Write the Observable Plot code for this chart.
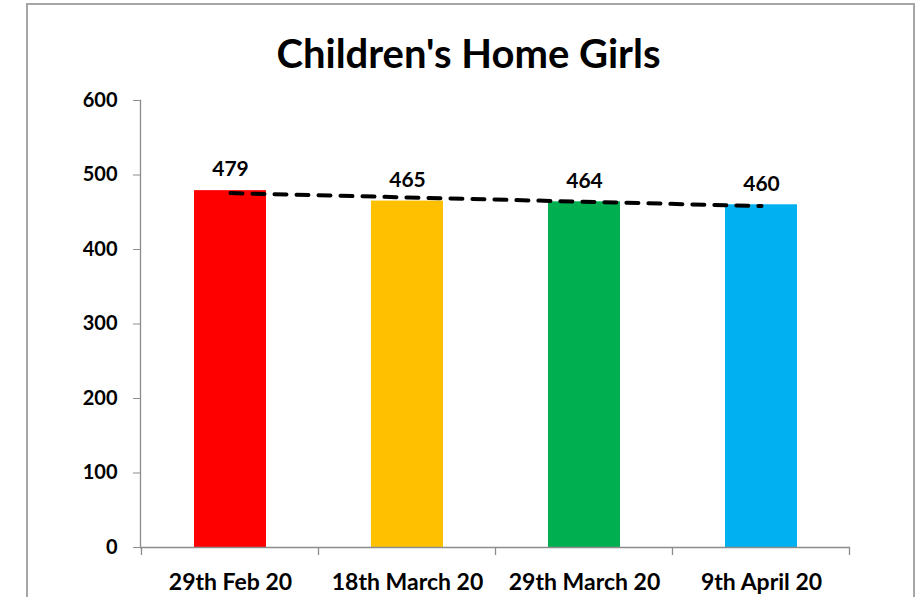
<!DOCTYPE html>
<html>
<head>
<meta charset="utf-8">
<script src="https://cdn.jsdelivr.net/npm/d3@7"></script>
<script src="https://cdn.jsdelivr.net/npm/@observablehq/plot@0.6"></script>
<style>
  html, body { margin: 0; padding: 0; background: #fff; }
  #wrap { position: relative; width: 918px; height: 597px; overflow: hidden; font-family: Lato, "Open Sans", sans-serif; }
  #border { position: absolute; left: 26px; top: 3px; width: 889px; height: 700px; border: 2px solid #a6a6a6; box-sizing: border-box; }
  #title { position: absolute; left: 27px; width: 883px; top: 30px; text-align: center; font-weight: 700; font-size: 40px; color: #000; line-height: 46px; }
  #chart { position: absolute; left: 0; top: 0; }
</style>
</head>
<body>
<div id="wrap">
  <div id="border"></div>
  <div id="title">Children's Home Girls</div>
  <div id="chart"></div>
</div>
<script>
const categories = ["29th Feb 20", "18th March 20", "29th March 20", "9th April 20"];
const values = [479, 465, 464, 460];
const barColors = ["#FF0000", "#FFC000", "#00B050", "#00B0F0"];
const yTicks = [0, 100, 200, 300, 400, 500, 600];

const data = categories.map((c, i) => ({category: c, value: values[i], color: barColors[i]}));

// Linear trendline (least squares over category index), as Excel's trendline
const n = values.length;
const idx = d3.range(n);
const mx = d3.mean(idx), my = d3.mean(values);
const slope = d3.sum(idx, i => (i - mx) * (values[i] - my)) / d3.sum(idx, i => (i - mx) ** 2);
const trend = categories.map((c, i) => ({category: c, value: my + slope * (i - mx)}));

const axisGray = "#8c8c8c";

const plot = Plot.plot({
  width: 918,
  height: 597,
  marginLeft: 140,
  marginRight: 68,
  marginTop: 100,
  marginBottom: 50,
  style: {fontFamily: "Lato, 'Open Sans', sans-serif", background: "transparent", overflow: "visible"},
  x: {type: "band", domain: categories, paddingInner: 0.594, paddingOuter: 0.297, label: null},
  y: {domain: [0, 600], label: null},
  marks: [
    Plot.barY(data, {x: "category", y: "value", fill: "color"}),
    Plot.frame({anchor: "left", stroke: axisGray, strokeWidth: 1.3}),
    Plot.ruleY([0], {stroke: axisGray, strokeWidth: 1.3}),
    Plot.axisY({ticks: yTicks, tickSize: 7, tickPadding: 16, stroke: axisGray, fill: "#000", fontSize: 20, fontWeight: "bold", tickFormat: d => String(d), label: null}),
    Plot.axisX({tickSize: 0, tickPadding: 26, fill: "#000", fontSize: 23, fontWeight: "bold", label: null}),
    Plot.line(trend, {x: "category", y: "value", stroke: "#000", strokeWidth: 4, strokeDasharray: "12 10", strokeLinecap: "round"}),
    Plot.text(data, {x: "category", y: "value", text: d => String(d.value), dy: -21, fontSize: 21, fontWeight: "bold", fill: "#000"})
  ]
});

document.getElementById("chart").appendChild(plot);

// Category boundary tick marks on the x axis, placed with the plot's x and y scales
const xs = plot.scale("x");
const ys = plot.scale("y");
const y0 = ys.apply(0);
const half = (xs.step - xs.bandwidth) / 2;
const bounds = categories.map(c => xs.apply(c) - half);
bounds.push(xs.apply(categories[n - 1]) + xs.bandwidth + half);
d3.select(plot).append("g")
  .selectAll("line").data(bounds).join("line")
  .attr("x1", d => d).attr("x2", d => d)
  .attr("y1", y0).attr("y2", y0 + 8)
  .attr("stroke", axisGray).attr("stroke-width", 1.3);
</script>
</body>
</html>
